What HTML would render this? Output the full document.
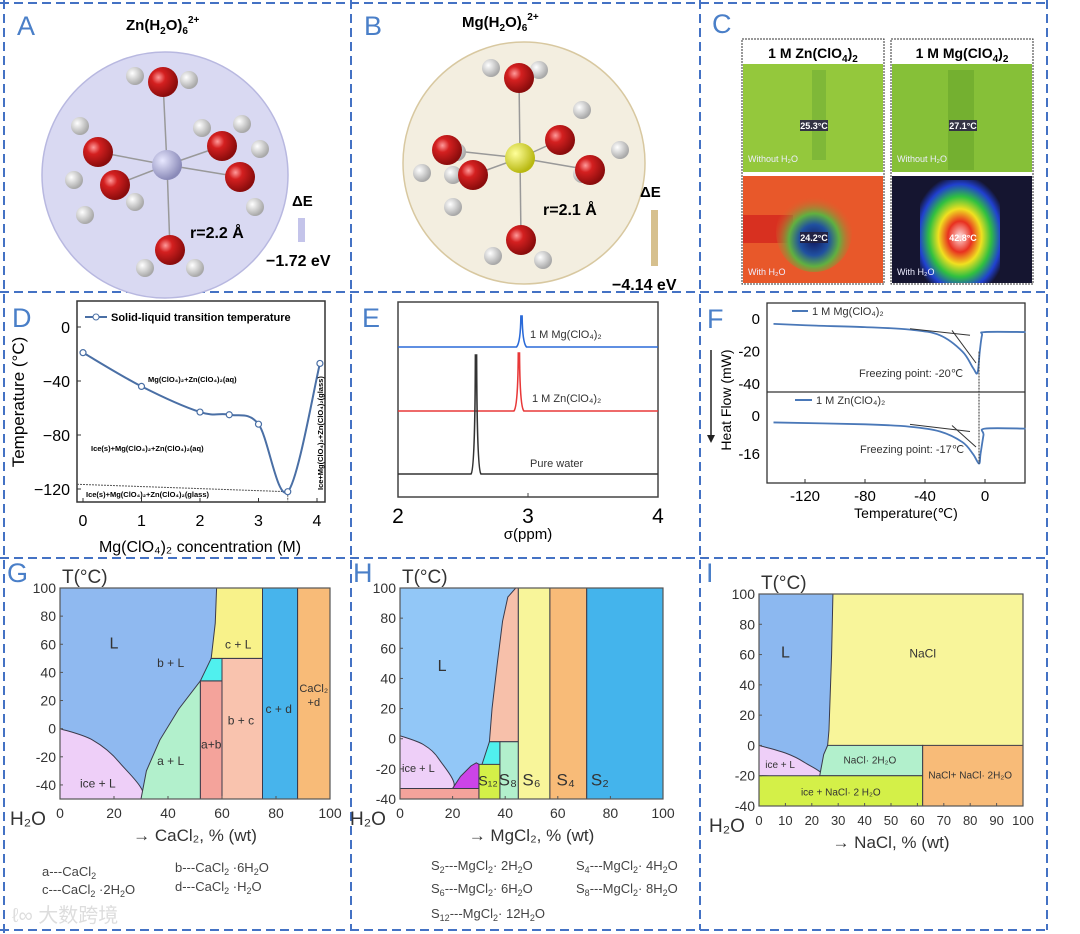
<!DOCTYPE html>
<html><head><meta charset="utf-8">
<style>
html,body{margin:0;padding:0;background:#fff;}
svg{display:block;font-family:"Liberation Sans",Arial,sans-serif;}
</style></head>
<body>
<svg id="fig" width="1080" height="934" viewBox="0 0 1080 934" xmlns="http://www.w3.org/2000/svg">
<defs>
<radialGradient id="gO" cx="35%" cy="35%" r="65%"><stop offset="0" stop-color="#ff9a9a"/><stop offset="0.35" stop-color="#d42020"/><stop offset="1" stop-color="#8a0c0c"/></radialGradient>
<radialGradient id="gH" cx="35%" cy="35%" r="65%"><stop offset="0" stop-color="#ffffff"/><stop offset="1" stop-color="#a8a8a8"/></radialGradient>
<radialGradient id="gZn" cx="35%" cy="35%" r="65%"><stop offset="0" stop-color="#e8e8ff"/><stop offset="1" stop-color="#8a8ab8"/></radialGradient>
<radialGradient id="gMg" cx="35%" cy="35%" r="65%"><stop offset="0" stop-color="#ffff9a"/><stop offset="1" stop-color="#b8b810"/></radialGradient>
<radialGradient id="gBlob" cx="50%" cy="55%" r="60%"><stop offset="0" stop-color="#ffe0e0"/><stop offset="0.25" stop-color="#e83020"/><stop offset="0.45" stop-color="#f0e020"/><stop offset="0.65" stop-color="#30c040"/><stop offset="0.85" stop-color="#2040d0"/><stop offset="1" stop-color="#151530"/></radialGradient>
<radialGradient id="gZnW" cx="50%" cy="60%" r="55%"><stop offset="0" stop-color="#101860"/><stop offset="0.35" stop-color="#2050a0"/><stop offset="0.6" stop-color="#60b040"/><stop offset="1" stop-color="#e85a2a" stop-opacity="0"/></radialGradient>
</defs>

<g stroke="#4472c4" stroke-width="2" stroke-dasharray="9,5" fill="none">
<line x1="0" y1="3" x2="1048" y2="3"/>
<line x1="0" y1="292" x2="1048" y2="292"/>
<line x1="0" y1="558" x2="1048" y2="558"/>
<line x1="0" y1="930" x2="1048" y2="930"/>
<line x1="4" y1="0" x2="4" y2="934"/>
<line x1="351" y1="0" x2="351" y2="930"/>
<line x1="700" y1="0" x2="700" y2="930"/>
<line x1="1047" y1="0" x2="1047" y2="930"/>
</g>

<g fill="#4a7fc8" font-size="27">
<text x="17" y="35">A</text>
<text x="364" y="35">B</text>
<text x="712" y="33">C</text>
<text x="12" y="327">D</text>
<text x="362" y="327">E</text>
<text x="707" y="328">F</text>
<text x="7" y="582">G</text>
<text x="353" y="582">H</text>
<text x="706" y="582">I</text>
</g>

<g>
<text x="126" y="30" font-size="15" font-weight="bold">Zn(H<tspan font-size="10" dy="4">2</tspan><tspan dy="-4">O)</tspan><tspan font-size="10" dy="4">6</tspan><tspan font-size="10" dy="-11">2+</tspan></text>
<circle cx="165" cy="175" r="123" fill="#d9d9f2" stroke="#b8b8e0" stroke-width="1.5"/>
<g id="molA"></g>
<text x="190" y="238" font-size="16" font-weight="bold">r=2.2 Å</text>
<text x="292" y="206" font-size="15" font-weight="bold">ΔE</text>
<rect x="298" y="218" width="7" height="24" fill="#c4c4ea"/>
<text x="266" y="266" font-size="16" font-weight="bold">−1.72 eV</text>
</g>

<g>
<text x="462" y="27" font-size="15" font-weight="bold">Mg(H<tspan font-size="10" dy="4">2</tspan><tspan dy="-4">O)</tspan><tspan font-size="10" dy="4">6</tspan><tspan font-size="10" dy="-11">2+</tspan></text>
<circle cx="524" cy="163" r="121" fill="#f3eee0" stroke="#d8c8a0" stroke-width="1.5"/>
<g id="molB"></g>
<text x="543" y="215" font-size="16" font-weight="bold">r=2.1 Å</text>
<text x="640" y="197" font-size="15" font-weight="bold">ΔE</text>
<rect x="651" y="210" width="7" height="56" fill="#d6c08e"/>
<text x="612" y="290" font-size="16" font-weight="bold">−4.14 eV</text>
</g>

<g>
<rect x="742" y="39" width="142" height="245" fill="#fff" stroke="#333" stroke-dasharray="2,1"/>
<rect x="891" y="39" width="142" height="245" fill="#fff" stroke="#333" stroke-dasharray="2,1"/>
<text x="813" y="58" font-size="14" font-weight="bold" text-anchor="middle">1 M Zn(ClO<tspan font-size="10" dy="4">4</tspan><tspan dy="-4">)</tspan><tspan font-size="10" dy="4">2</tspan></text>
<text x="962" y="58" font-size="14" font-weight="bold" text-anchor="middle">1 M Mg(ClO<tspan font-size="10" dy="4">4</tspan><tspan dy="-4">)</tspan><tspan font-size="10" dy="4">2</tspan></text>
<rect x="743" y="64" width="140" height="108" fill="#94c83c"/>
<rect x="812" y="70" width="14" height="90" fill="#7fb838"/>
<rect x="892" y="64" width="140" height="108" fill="#86c038"/>
<rect x="948" y="70" width="26" height="100" fill="#74b030"/>
<rect x="743" y="176" width="140" height="107" fill="#e8582a"/>
<rect x="743" y="215" width="50" height="28" fill="#d83020"/>
<ellipse cx="814" cy="232" rx="38" ry="40" fill="url(#gZnW)"/>
<rect x="892" y="176" width="140" height="107" fill="#151530"/>
<rect x="920" y="180" width="80" height="103" rx="12" fill="url(#gBlob)"/>
<g font-size="9" fill="#fff" font-weight="bold">
<rect x="800" y="120" width="28" height="11" fill="#334"/><text x="814" y="129" text-anchor="middle">25.3°C</text>
<rect x="949" y="120" width="28" height="11" fill="#334"/><text x="963" y="129" text-anchor="middle">27.1°C</text>
<rect x="800" y="232" width="28" height="11" fill="#224"/><text x="814" y="241" text-anchor="middle">24.2°C</text>
<text x="963" y="241" text-anchor="middle">42.8°C</text>
<text x="748" y="162" font-weight="normal" fill="#eef">Without H₂O</text>
<text x="897" y="162" font-weight="normal" fill="#eef">Without H₂O</text>
<text x="748" y="275" font-weight="normal" fill="#eef">With H₂O</text>
<text x="897" y="275" font-weight="normal" fill="#eef">With H₂O</text>
</g>
</g>

<g id="panelD"></g>
<g id="panelE"></g>
<g id="panelF"></g>
<g id="panelG"></g>
<g id="panelH"></g>
<g id="panelI"></g>

<g font-size="13" fill="#444">
<text x="42" y="876">a---CaCl<tspan font-size="9" dy="3">2</tspan></text>
<text x="42" y="894">c---CaCl<tspan font-size="9" dy="3">2</tspan><tspan dy="-3"> ·2H</tspan><tspan font-size="9" dy="3">2</tspan><tspan dy="-3">O</tspan></text>
<text x="175" y="872">b---CaCl<tspan font-size="9" dy="3">2</tspan><tspan dy="-3"> ·6H</tspan><tspan font-size="9" dy="3">2</tspan><tspan dy="-3">O</tspan></text>
<text x="175" y="891">d---CaCl<tspan font-size="9" dy="3">2</tspan><tspan dy="-3"> ·H</tspan><tspan font-size="9" dy="3">2</tspan><tspan dy="-3">O</tspan></text>
<text x="12" y="922" font-size="20" fill="#ddd" font-family="'Liberation Sans','Noto Sans CJK SC',sans-serif">ℓ∞ 大数跨境</text>
</g>
<g font-size="13" fill="#444">
<text x="431" y="870">S<tspan font-size="9" dy="3">2</tspan><tspan dy="-3">---MgCl</tspan><tspan font-size="9" dy="3">2</tspan><tspan dy="-3">· 2H</tspan><tspan font-size="9" dy="3">2</tspan><tspan dy="-3">O</tspan></text>
<text x="431" y="893">S<tspan font-size="9" dy="3">6</tspan><tspan dy="-3">---MgCl</tspan><tspan font-size="9" dy="3">2</tspan><tspan dy="-3">· 6H</tspan><tspan font-size="9" dy="3">2</tspan><tspan dy="-3">O</tspan></text>
<text x="431" y="918">S<tspan font-size="9" dy="3">12</tspan><tspan dy="-3">---MgCl</tspan><tspan font-size="9" dy="3">2</tspan><tspan dy="-3">· 12H</tspan><tspan font-size="9" dy="3">2</tspan><tspan dy="-3">O</tspan></text>
<text x="576" y="870">S<tspan font-size="9" dy="3">4</tspan><tspan dy="-3">---MgCl</tspan><tspan font-size="9" dy="3">2</tspan><tspan dy="-3">· 4H</tspan><tspan font-size="9" dy="3">2</tspan><tspan dy="-3">O</tspan></text>
<text x="576" y="893">S<tspan font-size="9" dy="3">8</tspan><tspan dy="-3">---MgCl</tspan><tspan font-size="9" dy="3">2</tspan><tspan dy="-3">· 8H</tspan><tspan font-size="9" dy="3">2</tspan><tspan dy="-3">O</tspan></text>
</g>
</svg>

<script>
// ---------- Panel D data ----------
const dConc = [0, 1, 2, 2.5, 3, 3.5, 4.05];
const dTemp = [-19, -44, -63, -65, -72, -122, -27];
const dXTicks = [0, 1, 2, 3, 4];
const dYTicks = [0, -40, -80, -120];
// ---------- Panel E data ----------
const eSeriesNames = ['1 M Mg(ClO4)2', '1 M Zn(ClO4)2', 'Pure water'];
const ePeakPos = [2.95, 2.93, 2.6];
const ePeakHeight = [31, 58, 119];
const eXTicks = [2, 3, 4];
// ---------- Panel F data ----------
const fMgT = [-141, -115, -80, -50, -30, -15, -8, -5, -3.5, -2, 0, 27];
const fMgH = [-3, -4, -5, -6.5, -10, -20, -30, -33, -20, -10, -8, -8];
const fZnT = [-141, -80, -50, -30, -15, -8, -4, -3, -1, 0, 27];
const fZnH = [-2.7, -3.5, -4.5, -6.5, -11, -16, -20, -16, -8, -5.3, -5.3];
const fXTicks = [-120, -80, -40, 0];
const fTopYTicks = [0, -20, -40];
const fBotYTicks = [0, -16];
// ---------- Phase diagram ticks ----------
const gXTicks = [0, 20, 40, 60, 80, 100];
const gYTicks = [100, 80, 60, 40, 20, 0, -20, -40];
const hYTicks = [100, 80, 60, 40, 20, 0, -20, -40];
const iXTicks = [0, 10, 20, 30, 40, 50, 60, 70, 80, 90, 100];
const iYTicks = [100, 80, 60, 40, 20, 0, -20, -40];

const NS = 'http://www.w3.org/2000/svg';
function mk(parent, tag, attrs, text) {
  const el = document.createElementNS(NS, tag);
  for (const k in attrs) el.setAttribute(k, attrs[k]);
  if (text !== undefined) el.textContent = text;
  parent.appendChild(el);
  return el;
}
function smooth(pts) {
  let d = 'M' + pts[0][0] + ',' + pts[0][1];
  for (let i = 0; i < pts.length - 1; i++) {
    const p0 = pts[i - 1] || pts[i], p1 = pts[i], p2 = pts[i + 1], p3 = pts[i + 2] || p2;
    const c1 = [p1[0] + (p2[0] - p0[0]) / 6, p1[1] + (p2[1] - p0[1]) / 6];
    const c2 = [p2[0] - (p3[0] - p1[0]) / 6, p2[1] - (p3[1] - p1[1]) / 6];
    d += ' C' + c1 + ' ' + c2 + ' ' + p2;
  }
  return d;
}

function molecule(gid, cx, cy, metal, oxys) {
  const g = document.getElementById(gid);
  oxys.forEach(o => mk(g, 'line', {x1: cx, y1: cy, x2: o[0], y2: o[1], stroke: '#999', 'stroke-width': 1.5}));
  oxys.forEach(o => {
    mk(g, 'circle', {cx: o[0] + o[2], cy: o[1] + o[3], r: 9, fill: 'url(#gH)'});
    mk(g, 'circle', {cx: o[0] + o[4], cy: o[1] + o[5], r: 9, fill: 'url(#gH)'});
  });
  oxys.forEach(o => mk(g, 'circle', {cx: o[0], cy: o[1], r: 15, fill: 'url(#gO)'}));
  mk(g, 'circle', {cx: cx, cy: cy, r: 15, fill: metal});
}
molecule('molA', 167, 165, 'url(#gZn)', [
  [163, 82, -28, -6, 26, -2], [98, 152, -18, -26, -24, 28], [222, 146, -20, -18, 20, -22],
  [115, 185, 20, 17, -30, 30], [240, 177, 20, -28, 15, 30], [170, 250, -25, 18, 25, 18]]);
molecule('molB', 520, 158, 'url(#gMg)', [
  [519, 78, -28, -10, 20, -8], [447, 150, 10, 2, -25, 23], [473, 175, -20, 32, -20, 0],
  [560, 140, 22, -30, 0, 0], [590, 170, -8, 4, 30, -20], [521, 240, -28, 16, 22, 20]]);

// ---------- Panel D ----------
(function () {
  const g = document.getElementById('panelD');
  const X = v => 83 + 58.5 * v, Y = v => 327 - 1.35 * v;
  mk(g, 'rect', {x: 77, y: 301, width: 248, height: 201, fill: 'none', stroke: '#333', 'stroke-width': 1.5});
  dXTicks.forEach(t => {
    const tl = mk(g, 'text', {x: X(t), y: 526, 'font-size': 16, 'text-anchor': 'middle'}, String(t));
    
    
    mk(g, 'line', {x1: X(t), y1: 502, x2: X(t), y2: 498, stroke: '#333'});
  });
  dYTicks.forEach(t => {
    const tl = mk(g, 'text', {x: 70, y: Y(t) + 6, 'font-size': 16, 'text-anchor': 'end'}, t === 0 ? '0' : '−' + Math.abs(t));
    
    
    mk(g, 'line', {x1: 77, y1: Y(t), x2: 81, y2: Y(t), stroke: '#333'});
  });
  const yt = mk(g, 'text', {x: 0, y: 0, 'font-size': 17, 'text-anchor': 'middle', transform: 'translate(24,402) rotate(-90)'}, 'Temperature (°C)');
  
  
  const xt = mk(g, 'text', {x: 200, y: 552, 'font-size': 16, 'text-anchor': 'middle'}, 'Mg(ClO₄)₂ concentration (M)');
  
  
  const gl = mk(g, 'line', {x1: 77, y1: Y(-116.5), x2: X(3.5), y2: Y(-122), stroke: '#555', 'stroke-dasharray': '2,1'});
  
  
  mk(g, 'line', {x1: X(3.5), y1: Y(-122), x2: X(3.5), y2: 502, stroke: '#555', 'stroke-dasharray': '2,1'});
  const pts = dConc.map((c, i) => [X(c), Y(dTemp[i])]);
  const ln = mk(g, 'path', {d: smooth(pts), fill: 'none', stroke: '#4a6fa5', 'stroke-width': 2});
  
  
  pts.forEach(p => {
    const c = mk(g, 'circle', {cx: p[0], cy: p[1], r: 3, fill: '#fff', stroke: '#4a6fa5', 'stroke-width': 1.2});
    
    
  });
  mk(g, 'line', {x1: 85, y1: 317, x2: 107, y2: 317, stroke: '#4a6fa5', 'stroke-width': 2});
  mk(g, 'circle', {cx: 96, cy: 317, r: 3, fill: '#fff', stroke: '#4a6fa5'});
  const lg = mk(g, 'text', {x: 111, y: 321, 'font-size': 11, 'font-weight': 'bold'}, 'Solid-liquid transition temperature');
  
  
  mk(g, 'text', {x: 148, y: 382, 'font-size': 7.5, 'font-weight': 'bold'}, 'Mg(ClO₄)₂+Zn(ClO₄)₂(aq)');
  mk(g, 'text', {x: 91, y: 451, 'font-size': 7.5, 'font-weight': 'bold'}, 'Ice(s)+Mg(ClO₄)₂+Zn(ClO₄)₂(aq)');
  mk(g, 'text', {x: 86, y: 497, 'font-size': 7.5, 'font-weight': 'bold'}, 'Ice(s)+Mg(ClO₄)₂+Zn(ClO₄)₂(glass)');
  mk(g, 'text', {x: 0, y: 0, 'font-size': 7.5, 'font-weight': 'bold', transform: 'translate(323,490) rotate(-90)'}, 'Ice+Mg(ClO₄)₂+Zn(ClO₄)₂(glass)');
})();

// ---------- Panel E ----------
(function () {
  const g = document.getElementById('panelE');
  const X = v => 398 + 130 * (v - 2);
  const base = [347, 411, 474];
  const cols = ['#2a6ad8', '#e83838', '#333'];
  mk(g, 'rect', {x: 398, y: 302, width: 260, height: 195, fill: 'none', stroke: '#444', 'stroke-width': 1.5});
  eXTicks.forEach(t => {
    const tl = mk(g, 'text', {x: X(t), y: 523, 'font-size': 21, 'text-anchor': 'middle'}, String(t));
    
    
  });
  mk(g, 'line', {x1: X(3), y1: 497, x2: X(3), y2: 493, stroke: '#444'});
  const xt = mk(g, 'text', {x: 528, y: 539, 'font-size': 15, 'text-anchor': 'middle'}, 'σ(ppm)');
  
  
  eSeriesNames.forEach((n, i) => {
    const pk = X(ePeakPos[i]), b = base[i], top = b - ePeakHeight[i];
    const d = 'M398,' + b + ' L' + (pk - 5) + ',' + b + ' Q' + (pk - 1) + ',' + (b - 4) + ' ' + (pk - 0.6) + ',' + top +
      ' L' + (pk + 0.6) + ',' + top + ' Q' + (pk + 1) + ',' + (b - 4) + ' ' + (pk + 5) + ',' + b + ' L658,' + b;
    const p = mk(g, 'path', {d: d, fill: 'none', stroke: cols[i], 'stroke-width': 1.6});
    
    
  });
  mk(g, 'text', {x: 530, y: 338, 'font-size': 11, fill: '#333'}, '1 M Mg(ClO₄)₂');
  mk(g, 'text', {x: 532, y: 402, 'font-size': 11, fill: '#333'}, '1 M Zn(ClO₄)₂');
  mk(g, 'text', {x: 530, y: 467, 'font-size': 11, fill: '#333'}, 'Pure water');
})();

// ---------- Panel F ----------
(function () {
  const g = document.getElementById('panelF');
  const X = v => 985 + 1.5 * v;
  const Yt = v => 319 - 1.63 * v, Yb = v => 416 - 2.38 * v;
  mk(g, 'rect', {x: 767, y: 303, width: 258, height: 180, fill: 'none', stroke: '#333', 'stroke-width': 1.3});
  mk(g, 'line', {x1: 767, y1: 392, x2: 1025, y2: 392, stroke: '#333', 'stroke-width': 1.3});
  fXTicks.forEach(t => {
    const tl = mk(g, 'text', {x: X(t), y: 501, 'font-size': 15, 'text-anchor': 'middle'}, t === 0 ? '0' : String(t));
    
    
    mk(g, 'line', {x1: X(t), y1: 483, x2: X(t), y2: 479, stroke: '#333'});
  });
  fTopYTicks.forEach(t => {
    const tl = mk(g, 'text', {x: 760, y: Yt(t) + 5, 'font-size': 15, 'text-anchor': 'end'}, String(t));
    
    
  });
  fBotYTicks.forEach(t => {
    const tl = mk(g, 'text', {x: 760, y: Yb(t) + 5, 'font-size': 15, 'text-anchor': 'end'}, String(t));
    
    
  });
  const s1 = mk(g, 'path', {d: smooth(fMgT.map((t, i) => [X(t), Yt(fMgH[i])])), fill: 'none', stroke: '#4a78b8', 'stroke-width': 1.8});
  
  
  const s2 = mk(g, 'path', {d: smooth(fZnT.map((t, i) => [X(t), Yb(fZnH[i])])), fill: 'none', stroke: '#4a78b8', 'stroke-width': 1.8});
  
  
  mk(g, 'line', {x1: X(-50), y1: Yt(-6), x2: X(-10), y2: Yt(-10), stroke: '#333'});
  mk(g, 'line', {x1: X(-22), y1: Yt(-7), x2: X(-6), y2: Yt(-27), stroke: '#333'});
  mk(g, 'line', {x1: X(-50), y1: Yb(-3.5), x2: X(-10), y2: Yb(-6.5), stroke: '#333'});
  mk(g, 'line', {x1: X(-22), y1: Yb(-4), x2: X(-6), y2: Yb(-13), stroke: '#333'});
  mk(g, 'line', {x1: X(-4), y1: Yt(-20), x2: X(-4), y2: Yb(-20), stroke: '#333', 'stroke-dasharray': '2,1'});
  mk(g, 'line', {x1: 792, y1: 311, x2: 808, y2: 311, stroke: '#4a78b8', 'stroke-width': 2});
  mk(g, 'text', {x: 812, y: 315, 'font-size': 11, fill: '#333'}, '1 M Mg(ClO₄)₂');
  mk(g, 'line', {x1: 795, y1: 400, x2: 812, y2: 400, stroke: '#4a78b8', 'stroke-width': 2});
  mk(g, 'text', {x: 816, y: 404, 'font-size': 11, fill: '#333'}, '1 M Zn(ClO₄)₂');
  mk(g, 'text', {x: 859, y: 377, 'font-size': 11, fill: '#333'}, 'Freezing point: -20℃');
  mk(g, 'text', {x: 860, y: 453, 'font-size': 11, fill: '#333'}, 'Freezing point: -17℃');
  const yt = mk(g, 'text', {x: 0, y: 0, 'font-size': 14, 'text-anchor': 'middle', transform: 'translate(731,400) rotate(-90)'}, 'Heat Flow (mW)');
  
  
  mk(g, 'line', {x1: 711, y1: 350, x2: 711, y2: 436, stroke: '#222', 'stroke-width': 1.5});
  mk(g, 'path', {d: 'M707,435 L715,435 L711,443 Z', fill: '#222'});
  const xt = mk(g, 'text', {x: 906, y: 518, 'font-size': 14, 'text-anchor': 'middle'}, 'Temperature(℃)');
  
  
})();

// ---------- Phase diagrams ----------
function phase(gid, box, yMin, yTicks, xTicks, bg, regions, labels, salt) {
  const g = document.getElementById(gid);
  const [x0, x1, y0, y1] = box;
  const X = v => x0 + (x1 - x0) * v / 100, Y = v => y1 - (y1 - y0) * (v - yMin) / (100 - yMin);
  const defs = document.querySelector('defs');
  const cp = mk(defs, 'clipPath', {id: 'clip-' + gid});
  mk(cp, 'rect', {x: x0, y: y0, width: x1 - x0, height: y1 - y0});
  const inner = mk(g, 'g', {'clip-path': 'url(#clip-' + gid + ')'});
  mk(inner, 'rect', {x: x0, y: y0, width: x1 - x0, height: y1 - y0, fill: bg});
  regions.forEach(r => {
    const d = r.sharp ? 'M' + r.pts.map(q => X(q[0]) + ',' + Y(q[1])).join(' L') + ' Z'
                      : smooth(r.pts.map(q => [X(q[0]), Y(q[1])])) + ' Z';
    const p = mk(inner, 'path', {d: d, fill: r.c, stroke: '#3a3a4a', 'stroke-width': 1});
    
    
  });
  mk(g, 'rect', {x: x0, y: y0, width: x1 - x0, height: y1 - y0, fill: 'none', stroke: '#555', 'stroke-width': 1.2});
  yTicks.forEach(t => {
    const tl = mk(g, 'text', {x: x0 - 4, y: Y(t) + 5, 'font-size': 14, 'text-anchor': 'end', fill: '#333'}, String(t));
    
    
    mk(g, 'line', {x1: x0, y1: Y(t), x2: x0 + 3, y2: Y(t), stroke: '#555'});
  });
  xTicks.forEach(t => {
    const tl = mk(g, 'text', {x: X(t), y: y1 + 19, 'font-size': xTicks.length > 6 ? 13 : 14, 'text-anchor': 'middle', fill: '#333'}, String(t));
    
    
    mk(g, 'line', {x1: X(t), y1: y1, x2: X(t), y2: y1 - 3, stroke: '#555'});
  });
  labels.forEach(l => {
    const t = mk(g, 'text', {x: X(l[1]), y: Y(l[2]), 'font-size': l[3], 'text-anchor': 'middle', fill: '#333'}, l[0]);
    
    
  });
  const tt = mk(g, 'text', {x: x0 + 2, y: y0 - 5, 'font-size': 19, fill: '#333'}, 'T(°C)');
  
  
  mk(g, 'text', {x: x0 - 50, y: y1 + 26, 'font-size': 19, fill: '#333'}, 'H₂O');
  const xt = mk(g, 'text', {x: (x0 + x1) / 2, y: y1 + 42, 'font-size': 17, 'text-anchor': 'middle', fill: '#333'}, '→ ' + salt + ', % (wt)');
  
  
}

phase('panelG', [60, 330, 588, 799], -50, gYTicks, gXTicks, '#8fb9f0', [
  {name: 'g-ice-l', c: '#eecff8', pts: [[0, 0], [12, -8], [22, -24], [30, -50], [0, -50]]},
  {name: 'g-a-l', c: '#b2f0cc', pts: [[30, -50], [32, -30], [37, -8], [44, 14], [52, 34], [52, -50]], sharp: true},
  {name: 'g-a-b', c: '#f4a39b', pts: [[52, 34], [60, 34], [60, -50], [52, -50]], sharp: true},
  {name: 'g-b-l', c: '#50f0ee', pts: [[52, 34], [56, 50], [60, 50], [60, 34]], sharp: true},
  {name: 'g-b-c', c: '#f9c3ae', pts: [[60, 50], [75, 50], [75, -50], [60, -50]], sharp: true},
  {name: 'g-c-l', c: '#f8f28a', pts: [[56, 50], [57.5, 75], [58, 100], [75, 100], [75, 50]], sharp: true},
  {name: 'g-c-d', c: '#47b4ec', pts: [[75, 100], [88, 100], [88, -50], [75, -50]], sharp: true},
  {name: 'g-cacl2-d', c: '#f8bb78', pts: [[88, 100], [100, 100], [100, -50], [88, -50]], sharp: true}
], [['L', 20, 57, 16], ['b + L', 41, 44, 12], ['c + L', 66, 57, 12], ['a+b', 56, -14, 12], ['b + c', 67, 3, 12], ['c + d', 81, 11, 12],
    ['CaCl₂', 94, 26, 11], ['+d', 94, 16, 11], ['a + L', 41, -26, 12], ['ice + L', 14, -42, 12]], 'CaCl₂');

phase('panelH', [400, 663, 588, 799], -40, hYTicks, gXTicks, '#92c7f7', [
  {name: 'h-salmon', c: '#f7c0aa', pts: [[34, -2], [35, 20], [37, 50], [39, 78], [41, 94], [44, 100], [45, 100], [45, -2]], sharp: true},
  {name: 'h-cyan', c: '#50f0ee', pts: [[31, -18], [34, -2], [38, -2], [38, -18]], sharp: true},
  {name: 'h-s12', c: '#d4f048', pts: [[30, -17], [38, -17], [38, -40], [30, -40]], sharp: true},
  {name: 'h-s8', c: '#b2f0cc', pts: [[38, -2], [45, -2], [45, -40], [38, -40]], sharp: true},
  {name: 'h-s6', c: '#f8f59a', pts: [[45, 100], [57, 100], [57, -40], [45, -40]], sharp: true},
  {name: 'h-s4', c: '#f8bb78', pts: [[57, 100], [71, 100], [71, -40], [57, -40]], sharp: true},
  {name: 'h-s2', c: '#44b4ec', pts: [[71, 100], [100, 100], [100, -40], [71, -40]], sharp: true},
  {name: 'h-ice-l', c: '#eecff8', pts: [[0, 2], [9, -4], [15, -14], [20, -33], [0, -33]]},
  {name: 'h-magenta', c: '#cc44e8', pts: [[20, -33], [23, -25], [27, -18], [29, -16], [30, -17], [30, -33]], sharp: true},
  {name: 'h-bottom-strip', c: '#f4a39b', pts: [[0, -33], [30, -33], [30, -40], [0, -40]], sharp: true}
], [['L', 16, 45, 16], ['ice + L', 7, -22, 11], ['S₁₂', 33.5, -31, 14], ['S₈', 41, -31, 17], ['S₆', 50, -31, 17], ['S₄', 63, -31, 17], ['S₂', 76, -31, 17]], 'MgCl₂');

phase('panelI', [759, 1023, 594, 806], -40, iYTicks, iXTicks, '#f8f59a', [
  {name: 'i-liquid', c: '#8cb8f0', pts: [[0, 0], [0, 100], [28, 100], [27.5, 60], [26.5, 10], [26, 0], [24.5, -8], [23, -20]], sharp: true},
  {name: 'i-ice-l', c: '#eecff8', pts: [[0, 0], [10, -5], [17, -11], [23, -20], [0, -20]]},
  {name: 'i-nacl-2h2o', c: '#b2f0cc', pts: [[23, -20], [24.5, -6], [26, 0], [62, 0], [62, -20]], sharp: true},
  {name: 'i-ice-nacl-2h2o', c: '#d4f048', pts: [[0, -20], [62, -20], [62, -40], [0, -40]], sharp: true},
  {name: 'i-nacl-mix', c: '#f8bb78', pts: [[62, 0], [100, 0], [100, -40], [62, -40]], sharp: true}
], [['L', 10, 58, 16], ['NaCl', 62, 58, 12], ['NaCl· 2H₂O', 42, -12, 10], ['ice + L', 8, -15, 10], ['ice + NaCl· 2 H₂O', 31, -33, 10], ['NaCl+ NaCl· 2H₂O', 80, -22, 10]], 'NaCl');
</script>
</body></html>
